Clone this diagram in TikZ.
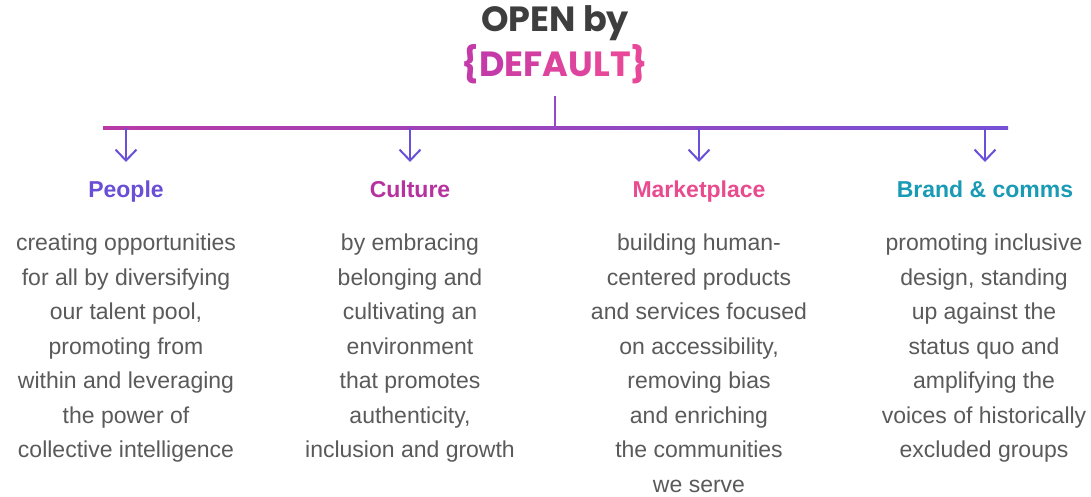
\documentclass[tikz,border=0pt]{standalone}
\usepackage{fontspec}
\setmainfont{Liberation Sans}
\newfontfamily\titlefont{Poppins}
\usetikzlibrary{arrows.meta,calc}

\definecolor{titlegray}{HTML}{3E3E3E}
\definecolor{defA}{HTML}{C43AA8}
\definecolor{defB}{HTML}{D13FA3}
\definecolor{defC}{HTML}{DC449E}
\definecolor{defD}{HTML}{E8489A}
\definecolor{barL}{HTML}{B93AA6}
\definecolor{barR}{HTML}{7650D6}
\definecolor{stem}{HTML}{9B46C6}
\definecolor{arrowc}{HTML}{6A50D8}
\definecolor{cPeople}{HTML}{6A4FD6}
\definecolor{cCulture}{HTML}{B5329F}
\definecolor{cMarket}{HTML}{E94B8F}
\definecolor{cBrand}{HTML}{1A9BB5}
\definecolor{bodygray}{HTML}{5A5A5A}

\tikzset{
  heading/.style={font=\fontsize{23}{28}\selectfont\bfseries, inner sep=0pt, anchor=base},
  bodytext/.style={font=\fontsize{23}{34.5}\selectfont, text=bodygray, align=center,
                   inner sep=0pt, anchor=north},
  branch/.style={draw=arrowc, line width=2pt,
                 -{Straight Barb[length=11pt,width=21pt,line width=2pt]}},
}

\begin{document}
\begin{tikzpicture}[x=1pt,y=-1pt]
  \useasboundingbox[fill=white] (0,0) rectangle (1091,497);

  % title
  \node[font=\titlefont\fontsize{35}{40}\selectfont\bfseries, text=titlegray, inner sep=0pt]
    (title) at (555,23) {OPEN by};
  \node[font=\titlefont\fontsize{35}{40}\selectfont\bfseries, inner sep=0pt]
    (default) at (555,64) {\textcolor{defA}{\{D}\textcolor{defB}{EF}\textcolor{defC}{AU}\textcolor{defD}{LT\}}};

  % tree trunk and bar
  \coordinate (top) at (555,96);
  \coordinate (hub) at (555,128);
  \coordinate (busL) at (103,128);
  \coordinate (busR) at (1008,128);
  \shade[left color=barL, right color=barR] ($(busL)+(0,-1.5)$) rectangle ($(busR)+(0,1.5)$);
  \draw[stem, line width=2.5pt] (top) -- (hub);

  % branch points
  \coordinate (b1) at (126,128);
  \coordinate (b2) at (410,128);
  \coordinate (b3) at (699,128);
  \coordinate (b4) at (985,128);

  % headings
  \node[heading, text=cPeople] (h1) at (126,197) {People};
  \node[heading, text=cCulture] (h2) at (410,197) {Culture};
  \node[heading, text=cMarket] (h3) at (699,197) {Marketplace};
  \node[heading, text=cBrand] (h4) at (985,197) {Brand \& comms};

  % arrows down to headings
  \draw[branch] (b1) -- ($(h1.base)+(0,-35)$);
  \draw[branch] (b2) -- ($(h2.base)+(0,-35)$);
  \draw[branch] (b3) -- ($(h3.base)+(0,-35)$);
  \draw[branch] (b4) -- ($(h4.base)+(0,-35)$);

  % descriptions
  \node[bodytext] (t1) at (126,234) {creating opportunities\\for all by diversifying\\our talent pool,\\promoting from\\within and leveraging\\the power of\\collective intelligence};
  \node[bodytext] (t2) at (410,234) {by embracing\\belonging and\\cultivating an\\environment\\that promotes\\authenticity,\\inclusion and growth};
  \node[bodytext] (t3) at (699,234) {building human-\\centered products\\and services focused\\on accessibility,\\removing bias\\and enriching\\the communities\\we serve};
  \node[bodytext] (t4) at (984,234) {promoting inclusive\\design, standing\\up against the\\status quo and\\amplifying the\\voices of historically\\excluded groups};
\end{tikzpicture}
\end{document}
